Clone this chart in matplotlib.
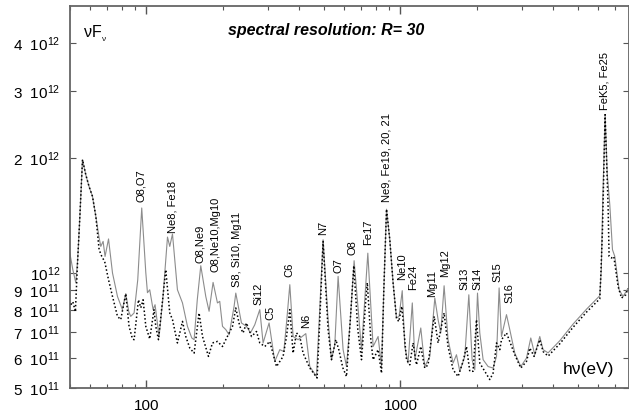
import matplotlib
matplotlib.use("Agg")
import matplotlib.pyplot as plt
from matplotlib.ticker import FixedLocator, NullLocator, LogLocator, NullFormatter

plt.rcParams['font.family'] = ['Liberation Sans', 'DejaVu Sans']
plt.rcParams['mathtext.fontset'] = 'custom'
plt.rcParams['mathtext.rm'] = 'Liberation Sans'
plt.rcParams['mathtext.it'] = 'Liberation Sans:italic'
plt.rcParams['mathtext.bf'] = 'Liberation Sans:bold'

# photon energy (eV) and nuFnu (units of 1e11) -- solid grey spectrum
e_line = [49.9, 51.3, 52.7, 53.6, 54.6, 56.0, 57.7, 59.4, 61.3, 63.2, 65.1, 66.1, 67.5, 68.7,
          70.9, 73.5, 76.9, 80.4, 82.9, 85.2, 86.7, 89.4, 92.4, 95.8, 99.4, 100.9, 103.0, 106.2,
          108.1, 112.1, 115.9, 121.0, 123.5, 126.6, 132.4, 138.6, 145.0, 150.8, 154.0, 158.5,
          163.6, 171.2, 176.4, 182.9, 190.3, 194.3, 199.2, 205.2, 211.5, 221.3, 224.7, 236.6,
          247.6, 256.7, 266.9, 279.3, 287.8, 303.9, 320.0, 334.9, 347.3, 356.9, 366.7, 377.8,
          395.3, 423.9, 439.5, 467.0, 476.8, 495.8, 518.8, 535.0, 551.3, 568.1, 594.4, 613.0,
          634.6, 656.8, 702.4, 743.7, 780.2, 816.4, 842.0, 859.8, 881.0, 907.7, 935.2, 964.4,
          987.4, 1016, 1040, 1071, 1113, 1139, 1202, 1246, 1305, 1365, 1406, 1441, 1485, 1539,
          1611, 1661, 1712, 1791, 1858, 1914, 1961, 2010, 2052, 2115, 2213, 2315, 2388, 2445,
          2498, 2614, 2693, 2818, 2976, 3134, 3258, 3378, 3535, 3642, 3811, 4239, 4780, 5399,
          6089, 6173, 6258, 6390, 6519, 6668, 6832, 6977, 7254, 7523, 7850]
f_line = [11.30, 10.20, 9.43, 10.83, 13.79, 19.8, 18.08, 16.86, 15.87, 14.06, 12.37, 11.74, 12.10, 11.05,
          12.28, 10.0, 8.68, 8.02, 8.83, 7.92, 7.70, 7.86, 9.60, 14.80, 10.02, 8.88, 9.04, 8.02,
          8.26, 6.82, 8.51, 12.42, 11.74, 12.65, 9.04, 8.35, 7.25, 6.76, 6.69, 8.51,
          10.45, 8.68, 7.94, 9.45, 8.35, 8.43, 7.25, 7.11, 6.89, 8.18, 8.86, 7.40,
          7.25, 6.97, 7.32, 8.02, 6.56, 7.40, 5.87, 6.30, 6.23, 7.55, 9.32, 6.82,
          6.69, 6.94, 5.69, 5.36, 7.11, 12.22, 7.55, 5.93, 6.49, 9.80, 6.30, 5.69,
          7.55, 10.77, 6.30, 11.27, 6.42, 6.82, 5.69, 9.04, 14.69, 12.22, 9.42, 7.62,
          7.70, 8.99, 6.42, 5.81, 8.35, 5.93, 7.18, 5.69, 6.05, 8.60, 7.55, 6.97, 9.26, 6.69,
          5.81, 6.11, 5.53, 6.05, 8.77, 5.93, 5.58, 8.86, 6.97, 5.93, 5.69, 5.64, 6.05, 9.14,
          6.82, 7.78, 7.11, 6.17, 5.69, 5.99, 6.76, 6.11, 6.82, 6.30, 6.18, 6.65, 7.35, 8.04,
          8.72, 10.20, 15.56, 25.97, 18.08, 15.09, 11.51, 11.05, 9.04, 8.68, 9.10]

# photon energy (eV) and nuFnu (units of 1e11) -- dotted spectrum
e_dot = [49.4, 50.4, 51.3, 52.5, 53.6, 54.6, 56.0, 57.7, 59.4, 61.3, 63.2, 65.1, 66.7, 68.5,
         70.9, 73.5, 76.9, 79.2, 82.9, 85.4, 88.1, 89.4, 93.0, 95.0, 97.0, 99.4, 103.0, 107.1,
         108.8, 111.5, 119.1, 123.5, 126.6, 132.4, 138.6, 142.8, 148.1, 154.0, 161.1, 166.2,
         175.4, 181.9, 190.3, 199.2, 205.2, 218.1, 224.7, 233.0, 240.1, 247.6, 259.1, 271.1,
         279.3, 292.3, 305.8, 325.0, 345.1, 355.9, 366.7, 377.8, 389.6, 401.4, 413.6, 439.5,
         469.6, 481.2, 495.8, 518.8, 535.0, 556.4, 571.7, 592.8, 613.0, 634.6, 654.9, 679.2,
         702.4, 730.3, 740.3, 764.2, 780.2, 816.4, 842.0, 859.8, 881.0, 907.7, 935.2, 964.4,
         984.7, 1012, 1056, 1088, 1121, 1156, 1202, 1246, 1284, 1357, 1406, 1485, 1539, 1611,
         1686, 1764, 1819, 1874, 1931, 1992, 2052, 2147, 2247, 2315, 2388, 2460, 2498, 2614,
         2693, 2818, 2976, 3134, 3229, 3357, 3535, 3642, 3811, 4239, 4780, 5399, 6089, 6145,
         6240, 6315, 6390, 6471, 6566, 6626, 6771, 6915, 7189, 7414, 7709, 7850]
f_dot = [8.11, 8.26, 8.41, 7.92, 10.83, 13.79, 19.8, 18.08, 16.86, 15.87, 14.06, 11.51, 11.05, 10.70,
         9.60, 8.68, 7.70, 7.55, 8.83, 7.25, 6.72, 6.69, 8.51, 8.11, 8.51, 7.25, 6.72, 8.02,
         7.25, 6.69, 10.20, 7.86, 7.55, 6.56, 7.47, 6.82, 6.36, 6.17, 7.86, 6.82,
         6.05, 6.56, 6.62, 6.42, 6.69, 7.25, 8.10, 7.25, 6.97, 7.40, 6.82, 7.03,
         6.56, 6.42, 6.62, 5.69, 6.05, 6.82, 8.02, 6.17, 6.97, 6.82, 6.17, 5.64,
         5.31, 7.55, 12.10, 7.11, 5.93, 6.69, 6.30, 5.65, 5.36, 7.55, 10.45, 7.11,
         5.93, 8.51, 9.43, 6.69, 5.93, 6.30, 5.47, 9.04, 14.69, 12.22, 9.42, 7.62,
         7.46, 8.18, 5.93, 5.75, 6.56, 5.75, 6.42, 5.64, 5.75, 7.70, 6.56, 7.86, 6.42, 5.58,
         5.36, 5.87, 6.42, 5.53, 5.53, 7.55, 5.81, 5.53, 5.26, 5.47, 6.56, 6.30, 6.69, 6.97,
         6.62, 6.11, 5.64, 5.87, 6.36, 6.05, 6.69, 6.23, 6.06, 6.53, 7.21, 7.90, 8.56, 9.80,
         12.98, 18.27, 25.97, 20.2, 14.94, 11.05, 10.95, 11.05, 9.22, 8.60, 8.77, 9.10]

# line identifications and where their labels sit (eV, units of 1e11)
line_names = ["O8,O7", "Ne8, Fe18", "O8,Ne9", "O8,Ne10,Mg10", "S8, Si10, Mg11", "Si12", "C5",
              "C6", "N6", "N7", "O7", "O8", "Fe17", "Ne9, Fe19, 20, 21", "Ne10", "Fe24",
              "Mg11", "Mg12", "Si13", "Si14", "S15", "S16", "FeK5, Fe25"]
line_energy = [95.3, 126.4, 162.1, 187.4, 226.7, 276.8, 308.6, 366.7, 423.9, 495.0, 568.0,
               649.0, 743.7, 883.0, 1012, 1118, 1328, 1494, 1791, 2018, 2416, 2693, 6372]
line_flux = [15.3, 12.75, 10.64, 10.08, 9.21, 8.26, 7.55, 9.78, 7.19, 12.59, 10.0,
             11.17, 11.86, 15.37, 9.60, 9.04, 8.67, 9.78, 9.04, 9.04, 9.49, 8.36, 26.76]

# y tick values and their mantissa/exponent text
ytick_vals = [5e11, 6e11, 7e11, 8e11, 9e11, 1e12, 2e12, 3e12, 4e12]
ytick_text = [r"5  $10^{11}$", r"6  $10^{11}$", r"7  $10^{11}$", r"8  $10^{11}$", r"9  $10^{11}$",
              r"$10^{12}$", r"2  $10^{12}$", r"3  $10^{12}$", r"4  $10^{12}$"]
xtick_vals = [100, 1000]
xtick_text = ["100", "1000"]

unit = 1e11

fig = plt.figure(figsize=(6.29, 4.19), dpi=100)
ax = fig.add_axes([70 / 629, 1 - 388 / 419, 558.5 / 629, 382 / 419])

ax.plot(e_line, [v * unit for v in f_line], color="#8c8c8c", lw=0.8, zorder=2)
ax.plot(e_dot, [v * unit for v in f_dot], color="black", lw=1.1,
        linestyle=(0, (1, 1.5)), zorder=3)

ax.set_xscale("log")
ax.set_yscale("log")
ax.set_xlim(50, 7900)
ax.set_ylim(5e11, 5e12)

ax.xaxis.set_major_locator(FixedLocator(xtick_vals))
ax.set_xticklabels(xtick_text)
ax.xaxis.set_minor_locator(LogLocator(base=10, subs=range(2, 10), numticks=20))
ax.xaxis.set_minor_formatter(NullFormatter())
ax.yaxis.set_major_locator(FixedLocator(ytick_vals))
ax.set_yticklabels(ytick_text)
ax.yaxis.set_minor_locator(NullLocator())

ax.tick_params(which="both", direction="in", top=True, right=True, colors="#555555",
               labelcolor="black", labelsize=11)
ax.tick_params(axis="x", which="major", length=6, width=1, pad=8)
ax.tick_params(axis="x", which="minor", length=3, width=0.8)
ax.tick_params(axis="y", which="major", length=4, width=0.8, pad=7)
for s in ax.spines.values():
    s.set_color("#666666")
    s.set_linewidth(1.3)

for name, ex, fx in zip(line_names, line_energy, line_flux):
    ax.text(ex, fx * unit, name, rotation=90, ha="center", va="bottom", fontsize=8)

# axis quantity, nu F_nu, with a lowered small subscript
ax.text(0.024, 0.955, r"νF$_{_{\mathrm{ν}}}$", transform=ax.transAxes, fontsize=11.5,
        ha="left", va="top")
ax.text(0.458, 0.955, "spectral resolution: R= 30", transform=ax.transAxes, fontsize=11.5,
        fontweight="bold", fontstyle="italic", ha="center", va="top")
ax.text(0.975, 0.03, "hν(eV)", transform=ax.transAxes, fontsize=12.5,
        ha="right", va="bottom")

fig.savefig("out.png", dpi=100)
